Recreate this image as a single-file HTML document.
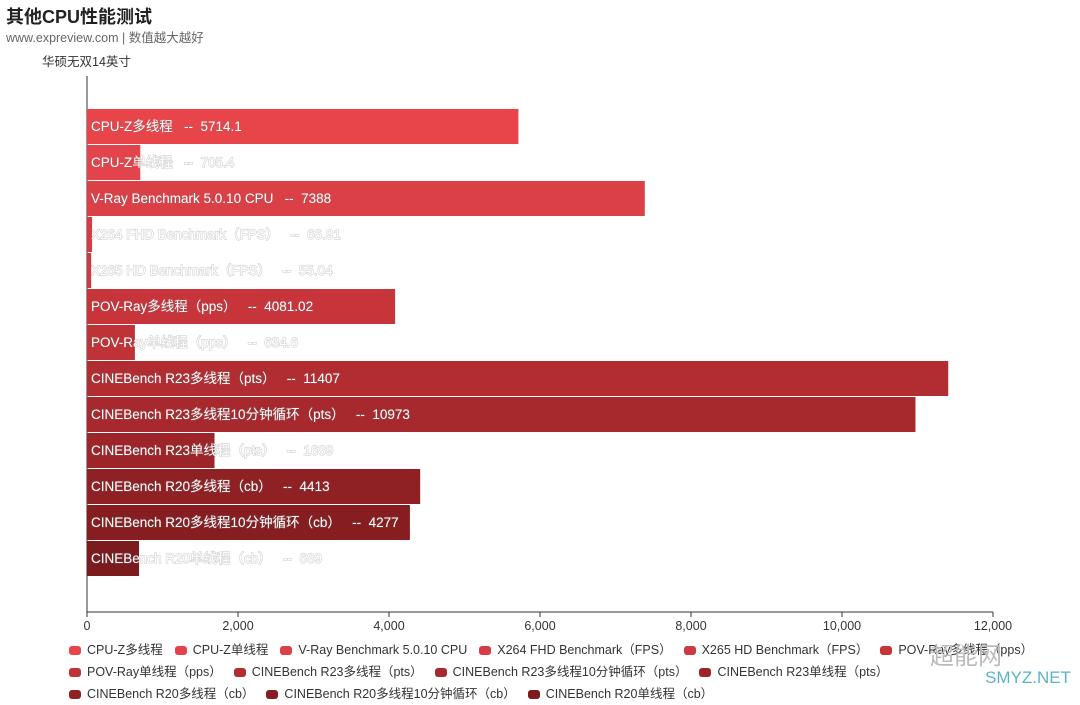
<!DOCTYPE html>
<html><head><meta charset="utf-8"><style>
body{margin:0;width:1080px;height:696px;background:#fff;overflow:hidden;position:relative;font-family:"Liberation Sans","Noto Sans CJK SC",sans-serif}
#title{position:absolute;left:6px;top:3px;font-size:18px;font-weight:bold;color:#222}
#sub{position:absolute;left:6px;top:27px;font-size:12.5px;color:#666}
#legend{position:absolute;left:69px;top:639px;font-size:12.5px;color:#333}
.lr{height:22px;white-space:nowrap}
.li{display:inline-block;margin-right:12px}
.lm{display:inline-block;width:12px;height:9px;border-radius:3px;margin-right:6px;vertical-align:-1px}
#wm{position:absolute;left:930px;top:636px;color:#bbb;font-size:24px}
#wm2{position:absolute;left:985px;top:668px;color:#5bb3c8;font-size:17px}
</style></head><body>
<div id="title">其他CPU性能测试</div>
<div id="sub">www.expreview.com | 数值越大越好</div>
<svg id="chart" width="1080" height="696" style="position:absolute;left:0;top:0"></svg>
<div id="legend"></div>
<div id="wm">超能网</div>
<div id="wm2">SMYZ.NET</div>
<script>
const categories=["CPU-Z多线程","CPU-Z单线程","V-Ray Benchmark 5.0.10 CPU","X264 FHD Benchmark（FPS）","X265 HD Benchmark（FPS）","POV-Ray多线程（pps）","POV-Ray单线程（pps）","CINEBench R23多线程（pts）","CINEBench R23多线程10分钟循环（pts）","CINEBench R23单线程（pts）","CINEBench R20多线程（cb）","CINEBench R20多线程10分钟循环（cb）","CINEBench R20单线程（cb）"];
const values=[5714.1,705.4,7388,66.91,55.04,4081.02,634.6,11407,10973,1689,4413,4277,689];
const valueLabels=["5714.1","705.4","7388","66.91","55.04","4081.02","634.6","11407","10973","1689","4413","4277","689"];
const colors=["#e8454b","#e3434a","#dc4047","#d53c43","#cf3940","#c7353b","#bf3237","#b22d32","#a8292d","#9d2529","#8f2124","#861e21","#7b1b1e"];
const ticks=[0,2000,4000,6000,8000,10000,12000];
const tickLabels=["0","2,000","4,000","6,000","8,000","10,000","12,000"];
const seriesName="华硕无双14英寸";
const legendRows=[[0,1,2,3,4,5],[6,7,8,9],[10,11,12]];

const svg=document.getElementById('chart');const NS="http://www.w3.org/2000/svg";
const x0=87,x1=993,xmax=12000,yTop=108,pitch=36,barH=35,axisY=612;
const xs=v=>x0+(v/xmax)*(x1-x0);
function mk(t,a){const e=document.createElementNS(NS,t);for(const k in a)e.setAttribute(k,a[k]);svg.appendChild(e);return e;}
const st=mk('text',{x:42,y:66,'font-size':12.5,fill:'#333'});st.textContent=seriesName;


const yl=mk('line',{x1:x0,y1:76,x2:x0,y2:axisY,stroke:'#333','stroke-width':1});


const xl=mk('line',{x1:x0,y1:axisY,x2:x1,y2:axisY,stroke:'#333','stroke-width':1});


ticks.forEach((t,i)=>{const x=xs(t);
 const tk=mk('line',{x1:x,y1:axisY,x2:x,y2:axisY+5,stroke:'#333'});
 
 
 const tl=mk('text',{x:x,y:axisY+18,'font-size':12.5,fill:'#333','text-anchor':'middle'});tl.textContent=tickLabels[i];
 
 });
categories.forEach((c,i)=>{const y=yTop+i*pitch;
 const r=mk('rect',{x:x0,y:y+1,width:xs(values[i])-x0,height:barH,fill:colors[i]});
 
 
 const t=mk('text',{x:x0+4,y:y+23,'font-size':13.5,fill:'#fff',stroke:'rgba(120,120,120,0.35)','stroke-width':1.2,'paint-order':'stroke'});
 t.textContent=c+'\u00a0\u00a0\u00a0--\u00a0\u00a0'+valueLabels[i];
 
 });
const lg=document.getElementById('legend');
legendRows.forEach(row=>{const d=document.createElement('div');d.className='lr';
 
 
 row.forEach(i=>{const s=document.createElement('span');s.className='li';
  
  
  s.innerHTML='<span class="lm" style="background:'+colors[i]+'"></span>'+categories[i];d.appendChild(s);});
 lg.appendChild(d);});
</script>
</body></html>
